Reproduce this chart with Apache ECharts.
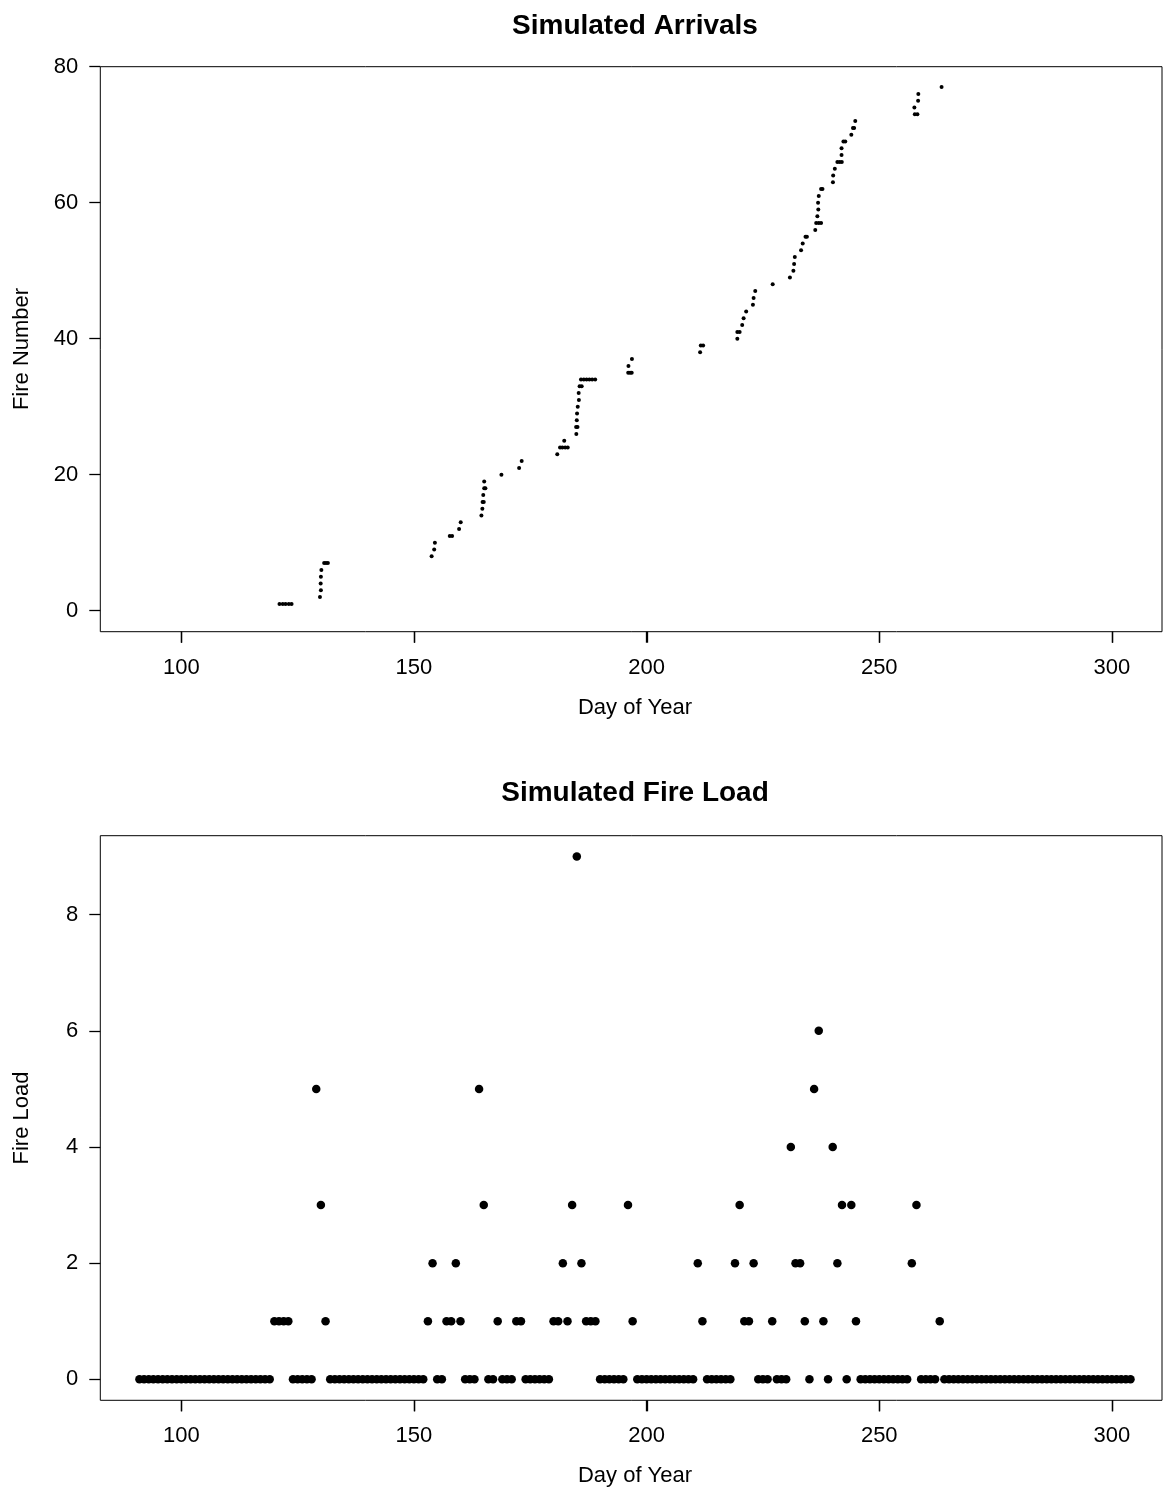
<!DOCTYPE html>
<html>
<head>
<meta charset="utf-8">
<script src="https://cdn.jsdelivr.net/npm/echarts@6/dist/echarts.min.js"></script>
<style>
html,body{margin:0;padding:0;background:#fff;}
#chart{width:1163px;height:1492px;}
</style>
</head>
<body>
<div id="chart"></div>
<script>
// ---- Top panel: simulated arrivals (arrival day, fire number) ----
const arrivalDays = [
  121.1,121.8,122.4,123.1,123.7,
  129.8,130.0,129.95,130.0,130.1,
  130.7,131.1,131.5,
  153.8,154.35,154.5,
  157.7,158.2,
  159.7,160.05,
  164.5,164.7,164.75,165.0,164.9,165.1,165.35,165.1,
  168.8,172.6,173.15,
  180.8,
  181.4,181.9,182.5,183.05,
  182.3,
  184.9,
  184.85,185.15,
  185.0,185.05,185.2,185.45,185.4,
  185.6,186.05,
  185.9,186.5,187.1,187.7,188.3,188.95,
  196.05,196.45,196.8,
  196.1,196.85,
  211.5,
  211.65,212.15,
  219.5,
  219.5,220.0,
  220.55,220.85,221.4,222.85,223.0,223.35,
  227.1,
  230.8,231.55,231.7,231.85,233.2,233.55,
  234.15,234.45,
  236.25,
  236.45,237.0,237.5,
  236.7,236.9,236.85,237.0,
  237.5,237.8,
  240.05,240.1,240.45,
  241.0,241.5,241.95,
  241.9,241.9,
  242.3,242.7,
  244.0,
  244.35,244.6,
  244.85,
  257.65,258.2,
  257.55,258.35,258.4,
  263.4
];
const fireNumbers = [
  1,1,1,1,1,
  2,3,4,5,6,
  7,7,7,
  8,9,10,
  11,11,
  12,13,
  14,15,16,16,17,18,18,19,
  20,21,22,
  23,
  24,24,24,24,
  25,
  26,
  27,27,
  28,29,30,31,32,
  33,33,
  34,34,34,34,34,34,
  35,35,35,
  36,37,
  38,
  39,39,
  40,
  41,41,
  42,43,44,45,46,47,
  48,
  49,50,51,52,53,54,
  55,55,
  56,
  57,57,57,
  58,59,60,61,
  62,62,
  63,64,65,
  66,66,66,
  67,68,
  69,69,
  70,
  71,71,
  72,
  73,73,
  74,75,76,
  77
];

// ---- Bottom panel: simulated fire load per day (days 91..304) ----
const firstLoadDay = 91;
const fireLoad = [
  0,0,0,0,0,0,0,0,0,0,0,0,0,0,0,0,0,0,0,0,0,0,0,0,0,0,0,0,0,   // 91-119
  1,1,1,1,                                                     // 120-123
  0,0,0,0,0,                                                   // 124-128
  5,3,1,                                                       // 129-131
  0,0,0,0,0,0,0,0,0,0,0,0,0,0,0,0,0,0,0,0,0,                   // 132-152
  1,2,0,0,1,1,2,1,0,0,0,                                       // 153-163
  5,3,0,0,1,0,0,0,1,1,                                         // 164-173
  0,0,0,0,0,0,                                                 // 174-179
  1,1,2,1,3,9,2,1,1,1,                                         // 180-189
  0,0,0,0,0,0,                                                 // 190-195
  3,1,                                                         // 196-197
  0,0,0,0,0,0,0,0,0,0,0,0,0,                                   // 198-210
  2,1,                                                         // 211-212
  0,0,0,0,0,0,                                                 // 213-218
  2,3,1,1,2,0,0,0,1,0,0,0,                                     // 219-230
  4,2,2,1,0,5,6,1,0,4,2,3,0,3,1,                               // 231-245
  0,0,0,0,0,0,0,0,0,0,0,                                       // 246-256
  2,3,0,0,0,0,1,                                               // 257-263
  0,0,0,0,0,0,0,0,0,0,0,0,0,0,0,0,0,0,0,0,0,0,0,0,0,0,0,0,0,0,0,0,0,0,0,0,0,0,0,0,0 // 264-304
];

const xTicks = [100, 150, 200, 250, 300];
const arrivalTicks = [0, 20, 40, 60, 80];
const loadTicks = [0, 2, 4, 6, 8];

const arrivalPoints = arrivalDays.map((d, i) => [d, fireNumbers[i]]);
const loadPoints = fireLoad.map((v, i) => [firstLoadDay + i, v]);

const FONT = "'Liberation Sans', Arial, Helvetica, sans-serif";
const X_MIN = 82.59, X_MAX = 310.77;
const Y_RANGES = [[-3.088, 80], [-0.3616, 9.36]];

function xAxisCfg(gridIndex) {
  return {
    type: 'value', gridIndex: gridIndex,
    min: X_MIN, max: X_MAX,
    axisLine: { show: false, onZero: false },
    splitLine: { show: false },
    axisTick: { show: true, length: 11, customValues: xTicks,
                lineStyle: { color: '#000', width: 1.3 } },
    axisLabel: { show: true, customValues: xTicks, margin: 25,
                 color: '#000', fontSize: 22, fontFamily: FONT }
  };
}
function yAxisCfg(gridIndex, ticks) {
  return {
    type: 'value', gridIndex: gridIndex,
    min: Y_RANGES[gridIndex][0], max: Y_RANGES[gridIndex][1],
    axisLine: { show: false, onZero: false },
    splitLine: { show: false },
    axisTick: { show: true, length: 11, customValues: ticks,
                lineStyle: { color: '#000', width: 1.3 } },
    axisLabel: { show: true, customValues: ticks, margin: 22,
                 color: '#000', fontSize: 22, fontFamily: FONT }
  };
}

const textEls = [
  { id: 't1', type: 'text', x: 635, y: 26, style: { text: 'Simulated Arrivals', fill: '#000',
    font: 'bold 28px ' + FONT, textAlign: 'center', textVerticalAlign: 'middle' } },
  { id: 't2', type: 'text', x: 635, y: 708, style: { text: 'Day of Year', fill: '#000',
    font: '22px ' + FONT, textAlign: 'center', textVerticalAlign: 'middle' } },
  { id: 't3', type: 'text', x: 22, y: 349, rotation: Math.PI / 2, style: { text: 'Fire Number', fill: '#000',
    font: '22px ' + FONT, textAlign: 'center', textVerticalAlign: 'middle' } },
  { id: 't4', type: 'text', x: 635, y: 793, style: { text: 'Simulated Fire Load', fill: '#000',
    font: 'bold 28px ' + FONT, textAlign: 'center', textVerticalAlign: 'middle' } },
  { id: 't5', type: 'text', x: 635, y: 1476, style: { text: 'Day of Year', fill: '#000',
    font: '22px ' + FONT, textAlign: 'center', textVerticalAlign: 'middle' } },
  { id: 't6', type: 'text', x: 22, y: 1118, rotation: Math.PI / 2, style: { text: 'Fire Load', fill: '#000',
    font: '22px ' + FONT, textAlign: 'center', textVerticalAlign: 'middle' } }
];

const chart = echarts.init(document.getElementById('chart'), null, { renderer: 'canvas' });
chart.setOption({
  backgroundColor: '#fff',
  animation: false,
  grid: [
    { left: 100.3, top: 66.7, width: 1061.7, height: 565, show: true,
      borderColor: '#000', borderWidth: 1, backgroundColor: 'transparent' },
    { left: 100.3, top: 835.7, width: 1061.7, height: 564.6, show: true,
      borderColor: '#000', borderWidth: 1, backgroundColor: 'transparent' }
  ],
  xAxis: [xAxisCfg(0), xAxisCfg(1)],
  yAxis: [yAxisCfg(0, arrivalTicks), yAxisCfg(1, loadTicks)],
  series: [
    { type: 'scatter', xAxisIndex: 0, yAxisIndex: 0, data: arrivalPoints,
      symbol: 'circle', symbolSize: 4, itemStyle: { color: '#000', opacity: 1 }, silent: true },
    { type: 'scatter', xAxisIndex: 1, yAxisIndex: 1, data: loadPoints,
      symbol: 'circle', symbolSize: 8.5, itemStyle: { color: '#000', opacity: 1 }, silent: true }
  ],
  graphic: { elements: textEls }
});

// Outward x-axis tick marks placed through the library's own axis scales
const tickEls = [];
[0, 1].forEach(function (g) {
  const yb = chart.convertToPixel({ yAxisIndex: g }, Y_RANGES[g][0]);
  xTicks.forEach(function (v, k) {
    const px = Math.round(chart.convertToPixel({ xAxisIndex: g }, v)) + 0.5;
    tickEls.push({ id: 'xt' + g + '_' + k, type: 'line', silent: true, z: 50,
      shape: { x1: px, y1: yb, x2: px, y2: yb + 11 },
      style: { stroke: '#000', lineWidth: 1.3 } });
  });
});
chart.setOption({ graphic: { elements: textEls.concat(tickEls) } });
</script>
</body>
</html>
